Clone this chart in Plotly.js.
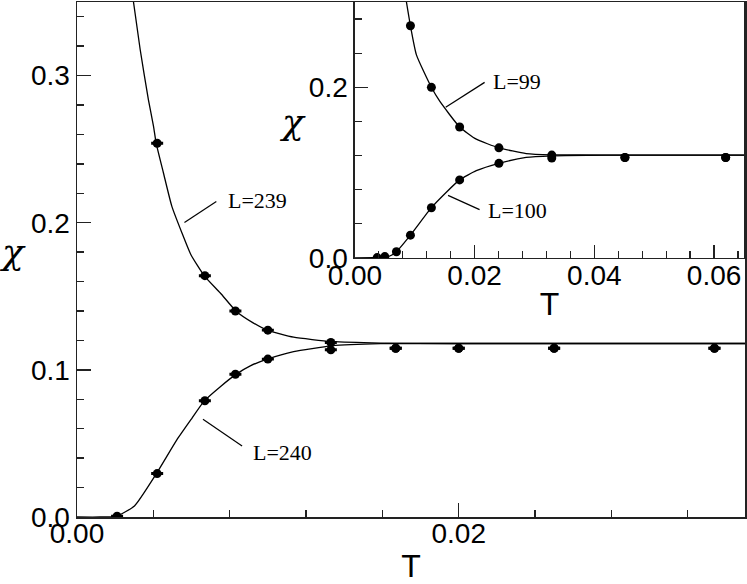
<!DOCTYPE html>
<html>
<head>
<meta charset="utf-8">
<script src="https://cdn.plot.ly/plotly-3.0.1.min.js"></script>
<style>html,body{margin:0;padding:0;background:#fff;}#chart{width:747px;height:584px;}</style>
</head>
<body>
<div id="chart"></div>
<script>
// ---- Main panel: data points (T, chi) ----
const mainT239 = [0.0042, 0.0067, 0.0083, 0.0100, 0.0133, 0.0167, 0.0200, 0.0250, 0.0334];
const mainChi239 = [0.254, 0.164, 0.140, 0.127, 0.1186, 0.1147, 0.1147, 0.1147, 0.1147];
const mainT240 = [0.0021, 0.0042, 0.0067, 0.0083, 0.0100, 0.0133, 0.0167, 0.0200, 0.0250, 0.0334];
const mainChi240 = [0.0005, 0.0295, 0.079, 0.097, 0.1073, 0.1136, 0.1147, 0.1147, 0.1147, 0.1147];
const mainErr239 = [0.0005, 0.0005, 0.0005, 0.0005, 0.0005, 0.0005, 0.0005, 0.0005, 0.0005];
const mainErr240 = [0.0005, 0.0005, 0.0005, 0.0005, 0.0005, 0.0005, 0.0005, 0.0005, 0.0005, 0.0005];

// ---- Main panel: fitted curves ----
const fitT239 = [0.00296, 0.00331, 0.00374, 0.00401, 0.00415, 0.00453, 0.00497, 0.00550, 0.00597, 0.00667, 0.00751, 0.00835, 0.00925, 0.00997, 0.01135, 0.01333, 0.01591, 0.0196, 0.035];
const fitChi239 = [0.350, 0.3177, 0.2837, 0.2655, 0.2539, 0.2338, 0.2111, 0.1930, 0.1782, 0.1639, 0.1522, 0.1397, 0.1318, 0.1270, 0.1222, 0.1193, 0.1182, 0.1179, 0.1179];
const fitT240 = [0.0, 0.00121, 0.00206, 0.00301, 0.00416, 0.00523, 0.00602, 0.00667, 0.00751, 0.00835, 0.00908, 0.00997, 0.01135, 0.01333, 0.01591, 0.0196, 0.035];
const fitChi240 = [0.0, 0.0, 0.0005, 0.0075, 0.0295, 0.0524, 0.0671, 0.0789, 0.0886, 0.0971, 0.1027, 0.1073, 0.1124, 0.1163, 0.1178, 0.1179, 0.1179];

// ---- Inset: data points ----
const insT99 = [0.00928, 0.01278, 0.0175, 0.02406, 0.03289, 0.04511, 0.06194];
const insChi99 = [0.2721, 0.2000, 0.1535, 0.1291, 0.1206, 0.1178, 0.1178];
const insT100 = [0.00372, 0.0050, 0.00694, 0.00928, 0.01278, 0.0175, 0.02406, 0.03289, 0.04511, 0.06194];
const insChi100 = [0.0004, 0.0016, 0.0073, 0.0267, 0.0589, 0.0915, 0.1109, 0.1171, 0.1178, 0.1178];

// ---- Inset: fitted curves ----
const insFitT99 = [0.00861, 0.00928, 0.01028, 0.01278, 0.01417, 0.0175, 0.02028, 0.02406, 0.02861, 0.03289, 0.04194, 0.065];
const insFitChi99 = [0.300, 0.2721, 0.2380, 0.2000, 0.1837, 0.1535, 0.1392, 0.1291, 0.1224, 0.1209, 0.1206, 0.1206];
const insFitT100 = [0.0, 0.00306, 0.00372, 0.00583, 0.00694, 0.00928, 0.01278, 0.01528, 0.0175, 0.02028, 0.02406, 0.02861, 0.03289, 0.04194, 0.065];
const insFitChi100 = [0.0, 0.0004, 0.0004, 0.0023, 0.0073, 0.0267, 0.0589, 0.0771, 0.0915, 0.1023, 0.1109, 0.1178, 0.1197, 0.1206, 0.1206];

const labels = ['L=239', 'L=240', 'L=99', 'L=100'];
const xTitle = 'T';
const yTitle = 'χ';

const lineStyle = {color: '#000', width: 1.3, shape: 'spline', smoothing: 0.5};
const markerStyle = {color: '#000', size: 9, symbol: 'circle'};

const traces = [
  {x: fitT239, y: fitChi239, mode: 'lines', line: lineStyle, xaxis: 'x', yaxis: 'y', hoverinfo: 'skip'},
  {x: fitT240, y: fitChi240, mode: 'lines', line: lineStyle, xaxis: 'x', yaxis: 'y', hoverinfo: 'skip'},
  {x: mainT239, y: mainChi239, mode: 'markers', marker: markerStyle, xaxis: 'x', yaxis: 'y',
   error_y: {type: 'data', array: mainErr239, visible: true, color: '#000', thickness: 1.5, width: 6}},
  {x: mainT240, y: mainChi240, mode: 'markers', marker: markerStyle, xaxis: 'x', yaxis: 'y',
   error_y: {type: 'data', array: mainErr240, visible: true, color: '#000', thickness: 1.5, width: 6}},
  {x: insFitT99, y: insFitChi99, mode: 'lines', line: lineStyle, xaxis: 'x2', yaxis: 'y2', hoverinfo: 'skip'},
  {x: insFitT100, y: insFitChi100, mode: 'lines', line: lineStyle, xaxis: 'x2', yaxis: 'y2', hoverinfo: 'skip'},
  {x: insT99, y: insChi99, mode: 'markers', marker: markerStyle, xaxis: 'x2', yaxis: 'y2'},
  {x: insT100, y: insChi100, mode: 'markers', marker: markerStyle, xaxis: 'x2', yaxis: 'y2'}
];

const axCol = '#222';
const tickFont = {family: 'Liberation Sans, Arial, sans-serif', size: 28, color: '#000'};
const titleFont = {family: 'Liberation Sans, Arial, sans-serif', size: 32, color: '#000'};
const chiFont = {family: 'DejaVu Serif, serif', size: 36, color: '#000', style: 'italic'};

function axis(extra) {
  return Object.assign({
    showline: true, mirror: true, linecolor: axCol, linewidth: 1.5,
    showgrid: false, zeroline: false, ticks: 'inside', tickcolor: axCol,
    tickwidth: 1.3, tickfont: tickFont, fixedrange: true
  }, extra);
}

const annFont = {family: 'Liberation Serif, Times New Roman, serif', size: 22, color: '#000'};

const layout = {
  width: 747, height: 584,
  margin: {l: 77, r: 2, t: 2, b: 67},
  paper_bgcolor: '#fff', plot_bgcolor: '#fff',
  showlegend: false,
  xaxis: axis({domain: [0, 1], range: [0, 0.035], dtick: 0.02, tick0: 0, ticklen: 14,
    tickformat: '.2f', ticklabelstandoff: -9,
    minor: {dtick: 0.004, ticklen: 7, ticks: 'inside', tickcolor: axCol, tickwidth: 1.3},
    title: {text: xTitle, font: titleFont, standoff: 10}, anchor: 'y'}),
  yaxis: axis({domain: [0, 1], range: [0, 0.35], dtick: 0.1, tick0: 0, ticklen: 14,
    tickformat: '.1f', minor: {dtick: 0.02, ticklen: 7, ticks: 'inside', tickcolor: axCol, tickwidth: 1.3},
    anchor: 'x'}),
  xaxis2: axis({domain: [0.416, 0.9985], range: [0, 0.065], dtick: 0.02, tick0: 0, ticklen: 13,
    tickformat: '.2f', ticklabelstandoff: -8,
    minor: {dtick: 0.004, ticklen: 7, ticks: 'inside', tickcolor: axCol, tickwidth: 1.3},
    title: {text: xTitle, font: titleFont, standoff: 2}, anchor: 'y2'}),
  yaxis2: axis({domain: [0.503, 1], range: [0, 0.3], dtick: 0.2, tick0: 0, ticklen: 13,
    tickformat: '.1f', minor: {dtick: 0.04, ticklen: 7, ticks: 'inside', tickcolor: axCol, tickwidth: 1.3},
    anchor: 'x2'}),
  shapes: [
    {type: 'line', xref: 'x', yref: 'y', x0: 0.00563, y0: 0.2002, x1: 0.00730, y1: 0.2145, line: {color: '#000', width: 1.2}},
    {type: 'line', xref: 'x', yref: 'y', x0: 0.0066, y0: 0.0665, x1: 0.00865, y1: 0.0483, line: {color: '#000', width: 1.2}},
    {type: 'line', xref: 'x2', yref: 'y2', x0: 0.01517, y0: 0.1767, x1: 0.02167, y1: 0.2058, line: {color: '#000', width: 1.2}},
    {type: 'line', xref: 'x2', yref: 'y2', x0: 0.01556, y0: 0.0733, x1: 0.02083, y1: 0.0566, line: {color: '#000', width: 1.2}}
  ],
  annotations: [
    {xref: 'x', yref: 'y', x: 0.00782, y: 0.215, text: labels[0], showarrow: false, xanchor: 'left', yanchor: 'middle', font: annFont},
    {xref: 'x', yref: 'y', x: 0.00912, y: 0.044, text: labels[1], showarrow: false, xanchor: 'left', yanchor: 'middle', font: annFont},
    {xref: 'x2', yref: 'y2', x: 0.02278, y: 0.207, text: labels[2], showarrow: false, xanchor: 'left', yanchor: 'middle', font: annFont},
    {xref: 'x2', yref: 'y2', x: 0.02194, y: 0.0558, text: labels[3], showarrow: false, xanchor: 'left', yanchor: 'middle', font: annFont},
    // y-axis titles (upright chi, as in the reference)
    {xref: 'paper', yref: 'paper', x: -0.0973, y: 0.516, text: yTitle, showarrow: false, xanchor: 'center', yanchor: 'middle', font: chiFont},
    {xref: 'paper', yref: 'paper', x: 0.3219, y: 0.768, text: yTitle, showarrow: false, xanchor: 'center', yanchor: 'middle', font: chiFont}
  ]
};

Plotly.newPlot('chart', traces, layout, {displayModeBar: false, staticPlot: true});
</script>
</body>
</html>
